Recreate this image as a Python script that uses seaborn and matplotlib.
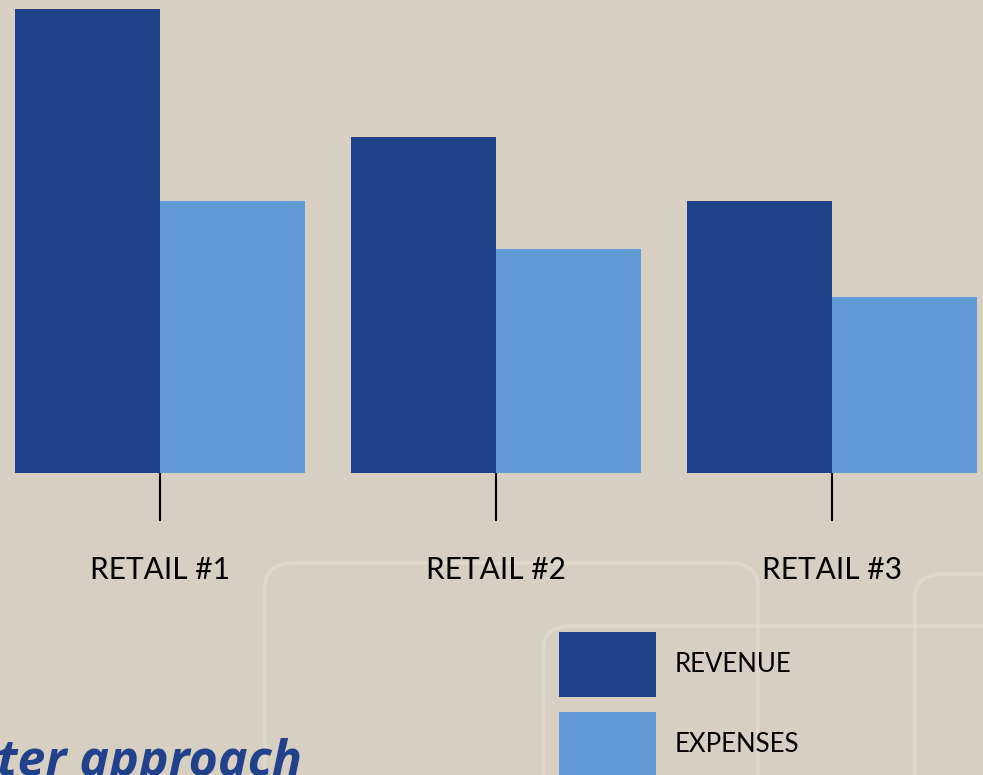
import matplotlib
matplotlib.use("Agg")
import matplotlib.pyplot as plt
import seaborn as sns
import pandas as pd
from matplotlib.patches import FancyBboxPatch

# ---- data ----
stores = ["RETAIL #1", "RETAIL #2", "RETAIL #3"]
revenue = [29, 21, 17]
expenses = [17, 14, 11]
series_names = ["REVENUE", "EXPENSES"]
title_text = "ter approach"

df = pd.DataFrame({
    "store": stores * 2,
    "value": revenue + expenses,
    "series": [series_names[0]] * 3 + [series_names[1]] * 3,
})

BG = "#D6CFC2"
DARK = "#21418B"
LIGHT = "#619CD9"

sns.set_theme(style="white")
plt.rcParams["font.family"] = ["Lato", "DejaVu Sans"]
plt.rcParams["text.color"] = "black"

W, H = 983, 775
fig = plt.figure(figsize=(W / 100, H / 100), dpi=100, facecolor=BG)

# background decorative rounded frames (figure pixel coords, top-down)
def deco(left, top, right, bottom):
    p = FancyBboxPatch((left / W, 1 - bottom / H), (right - left) / W, (bottom - top) / H,
                       boxstyle="round,pad=0,rounding_size=0.03",
                       transform=fig.transFigure, fill=False,
                       edgecolor="#E6E1D2", linewidth=2.5, alpha=0.6, zorder=-5)
    fig.patches.append(p)

deco(265, 563, 758, 820)
deco(543, 626, 1040, 820)
deco(915, 574, 1040, 820)

ax = fig.add_axes([0, (H - 473) / H, 1, 473 / H])
ax.set_facecolor("none")
ax.set_zorder(2)

sns.barplot(data=df, x="store", y="value", hue="series", order=stores,
            hue_order=series_names, palette=[DARK, LIGHT],
            width=290 / 336, gap=0, dodge=True, ax=ax, saturation=1,
            linewidth=0, errorbar=None)

ax.set_xlim(-160 / 336, (W - 160) / 336)
ax.set_ylim(0, 473 / 16)
for s in ax.spines.values():
    s.set_visible(False)
ax.set_xlabel("")
ax.set_ylabel("")
ax.set_yticks([])
ax.tick_params(axis="x", bottom=True, direction="out", length=34.5, width=1.5,
               color="black", pad=25.5, labelsize=21.5, labelcolor="black")

handles, labels = ax.get_legend_handles_labels()
if ax.get_legend() is not None:
    ax.get_legend().remove()
fs = 18.5
fspx = fs * 100 / 72
# legend box height = fs * (0.65 * hh + 0.245)
hh = (65 / fspx - 0.245) / 0.65
leg = fig.legend(handles, labels, loc="upper left",
                 bbox_to_anchor=(559 / W, 1 - 632 / H),
                 bbox_transform=fig.transFigure,
                 frameon=False, fontsize=fs, borderpad=0, borderaxespad=0,
                 handlelength=97 / fspx, handleheight=hh,
                 labelspacing=15 / fspx, handletextpad=19 / fspx)
for t in leg.get_texts():
    t.set_color("black")

fig.text(302 / W, -1 / H, title_text, ha="right", va="baseline",
         fontsize=36, fontweight="bold", fontstyle="italic", color=DARK,
         family=["Open Sans", "DejaVu Sans"])

fig.savefig("out.png", dpi=100, facecolor=BG)
